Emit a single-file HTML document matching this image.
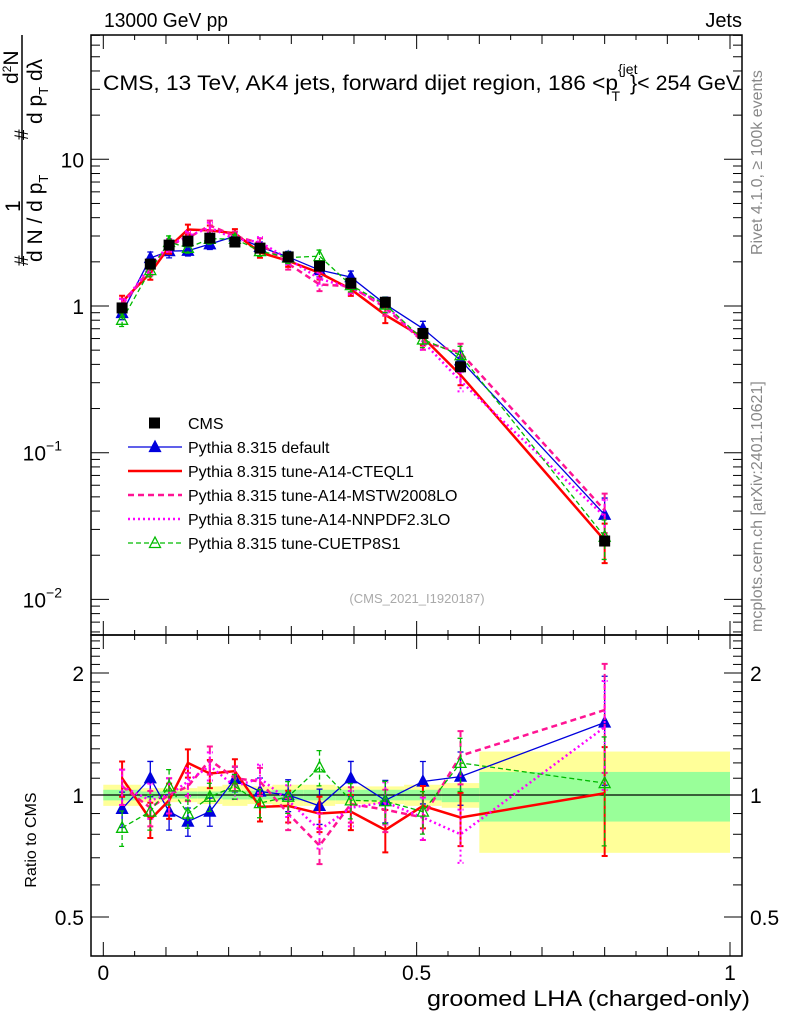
<!DOCTYPE html>
<html><head><meta charset="utf-8"><style>
body{margin:0;background:#fff;}
svg text{font-family:"Liberation Sans",sans-serif;}
</style></head><body>
<svg id="c" width="786" height="1024" viewBox="0 0 786 1024" xmlns="http://www.w3.org/2000/svg">
<rect width="786" height="1024" fill="#fff"/>
<g id="bands"></g>
<g id="series"></g>
<g id="axes" stroke="#000" fill="none" stroke-width="1"></g>
<rect x="91" y="35" width="651" height="600" fill="none" stroke="#000" stroke-width="1.5"/>
<rect x="91" y="635" width="651" height="321" fill="none" stroke="#000" stroke-width="1.5"/>
<text x="104" y="27" font-size="20" textLength="124" lengthAdjust="spacingAndGlyphs">13000 GeV pp</text>
<text x="742" y="27" font-size="20" text-anchor="end">Jets</text>
<text x="103" y="90" font-size="21"><tspan textLength="515" lengthAdjust="spacingAndGlyphs">CMS, 13 TeV, AK4 jets, forward dijet region, 186 &lt;p</tspan><tspan font-size="14" dy="-16">{jet</tspan><tspan font-size="14" dx="-26" dy="27">T</tspan><tspan dy="-11" dx="10" textLength="110" lengthAdjust="spacingAndGlyphs">}&lt; 254 GeV</tspan></text>
<text transform="translate(762,255) rotate(-90)" font-size="16" fill="#888">Rivet 4.1.0, ≥ 100k events</text>
<text transform="translate(762,632) rotate(-90)" font-size="16" fill="#888">mcplots.cern.ch [arXiv:2401.10621]</text>
<text x="417" y="603" font-size="13" fill="#aaa" text-anchor="middle">(CMS_2021_I1920187)</text>
<g font-size="21">
<line x1="22" y1="35" x2="22" y2="262" stroke="#000" stroke-width="1.5"/>
<text transform="translate(20,212) rotate(-90)">1</text>
<text transform="translate(28,266) rotate(-90)" font-size="19">#</text>
<text transform="translate(42,262) rotate(-90)">d N / d p<tspan font-size="13" dy="6">T</tspan></text>
<text transform="translate(28,140) rotate(-90)" font-size="19">#</text>
<text transform="translate(18,84) rotate(-90)">d<tspan font-size="12" dy="-7">2</tspan><tspan dy="7">N</tspan></text>
<text transform="translate(42,124) rotate(-90)">d p<tspan font-size="13" dy="6">T</tspan><tspan dy="-6"> dλ</tspan></text>
</g>
<text transform="translate(36,840) rotate(-90)" font-size="16" text-anchor="middle">Ratio to CMS</text>
<text x="750" y="1006" font-size="22" text-anchor="end" textLength="323" lengthAdjust="spacingAndGlyphs">groomed LHA (charged-only)</text>
<g id="ticklabels" font-size="21"></g>
<g id="legend"></g>
</svg>
<script>
const xCenters=[0.03,0.075,0.105,0.135,0.17,0.21,0.25,0.295,0.345,0.395,0.45,0.51,0.57,0.8];
const binEdges=[0,0.06,0.09,0.12,0.15,0.19,0.23,0.27,0.32,0.37,0.42,0.48,0.54,0.6,1.0];
const cmsValues=[0.97,1.93,2.6,2.77,2.9,2.73,2.48,2.16,1.87,1.43,1.06,0.65,0.385,0.025];
const statBand=[0.03,0.02,0.02,0.02,0.02,0.025,0.025,0.03,0.03,0.03,0.03,0.03,0.04,0.14];
const totBand=[0.06,0.04,0.04,0.04,0.05,0.06,0.05,0.06,0.06,0.05,0.05,0.06,0.07,0.28];
const ratioDefault=[0.924,1.10,0.91,0.86,0.91,1.095,1.02,1.0,0.94,1.10,0.97,1.08,1.11,1.51];
const ratioCTEQ=[1.10,0.87,0.97,1.2,1.13,1.145,0.935,0.94,0.9,0.91,0.82,0.94,0.88,1.01];
const ratioMSTW=[1.05,0.93,1.0,1.05,1.22,1.1,1.08,0.9,0.75,0.95,0.92,0.88,1.25,1.62];
const ratioNNPDF=[1.05,0.97,1.0,1.08,1.18,1.05,1.1,0.97,0.82,0.93,0.96,0.88,0.8,1.47];
const ratioCUETP=[0.83,0.91,1.05,0.9,0.99,1.05,0.955,0.99,1.17,0.97,0.965,0.91,1.2,1.07];
const modelErr=[0.1,0.1,0.1,0.08,0.08,0.07,0.08,0.09,0.1,0.1,0.12,0.12,0.15,0.3];

const NS='http://www.w3.org/2000/svg';
function X(v){return 103.3+v*626.7;}
function Y(v){return 306-146.7*Math.log10(v);}
function R(v){return 795-122*Math.log2(v);}
function mk(tag,attrs,parent){const e=document.createElementNS(NS,tag);for(const k in attrs)e.setAttribute(k,attrs[k]);parent.appendChild(e);return e;}
const bands=document.getElementById('bands'),ser=document.getElementById('series'),ax=document.getElementById('axes'),tl=document.getElementById('ticklabels'),lg=document.getElementById('legend');

for(let i=0;i<xCenters.length;i++){
 const x0=X(binEdges[i]),x1=X(binEdges[i+1]);
 const y=mk('rect',{x:x0,y:R(1+totBand[i]),width:x1-x0,height:R(1-totBand[i])-R(1+totBand[i]),fill:'#ffff99'},bands);
 
 
 const g=mk('rect',{x:x0,y:R(1+statBand[i]),width:x1-x0,height:R(1-statBand[i])-R(1+statBand[i]),fill:'#99ff99'},bands);
 
 
}
const one=mk('line',{x1:91,x2:742,y1:R(1),y2:R(1),stroke:'#000','stroke-width':1.2},bands);



const models=[
 {name:'default',r:ratioDefault,col:'#0000dd',w:1.3,dash:'',mark:'tri'},
 {name:'cteql1',r:ratioCTEQ,col:'#ff0000',w:2.5,dash:'',mark:''},
 {name:'mstw',r:ratioMSTW,col:'#ff1493',w:2.5,dash:'6,4',mark:''},
 {name:'nnpdf',r:ratioNNPDF,col:'#ff00ff',w:2.5,dash:'2,3',mark:''},
 {name:'cuetp',r:ratioCUETP,col:'#00bb00',w:1.3,dash:'5,3',mark:'otri'}];
function tri(cx,cy,col,open,parent){
 return mk('polygon',{points:`${cx},${cy-6} ${cx-5.5},${cy+4.5} ${cx+5.5},${cy+4.5}`,fill:open?'none':col,stroke:col,'stroke-width':1.3},parent);
}
models.forEach(m=>{
 const g=mk('g',{},ser);
 
 
 ['main','ratio'].forEach(panel=>{
  const f=panel==='main'?(i=>Y(cmsValues[i]*m.r[i])):(i=>R(m.r[i]));
  const fv=panel==='main'?((i,s)=>Y(cmsValues[i]*m.r[i]*s)):((i,s)=>R(m.r[i]*s));
  let d='';xCenters.forEach((x,i)=>{d+=(i?'L':'M')+X(x)+','+f(i);});
  const pl=mk('path',{d:d,fill:'none',stroke:m.col,'stroke-width':m.w,'stroke-dasharray':m.dash},g);
  
  
  xCenters.forEach((x,i)=>{
   const e=mk('path',{d:`M${X(x)},${fv(i,1+modelErr[i])}V${fv(i,1-modelErr[i])}M${X(x)-3},${fv(i,1+modelErr[i])}h6M${X(x)-3},${fv(i,1-modelErr[i])}h6`,stroke:m.col,'stroke-width':m.w>2?2:1.3,'stroke-dasharray':m.dash,fill:'none'},g);
   
   
   if(m.mark){const t=tri(X(x),f(i),m.col,m.mark==='otri',g);
    
    }
  });
 });
});
const cg=mk('g',{},ser);


xCenters.forEach((x,i)=>{
 const s=mk('rect',{x:X(x)-5.5,y:Y(cmsValues[i])-5.5,width:11,height:11,fill:'#000'},cg);
 
 
});

function tick(x1,y1,x2,y2){mk('line',{x1,y1,x2,y2},ax);}
for(let k=0;k<=20;k++){const v=k*0.05,x=X(v),L=(k%10===0)?14:(k%2===0?9:5);
 tick(x,635,x,635-L);tick(x,35,x,35+L);tick(x,956,x,956-L);tick(x,635,x,635+L);}
[[0,'0'],[0.5,'0.5'],[1,'1']].forEach(([v,t])=>{const e=mk('text',{x:X(v),y:980,'text-anchor':'middle'},tl);e.textContent=t;
 });
for(let dec=-3;dec<=1;dec++){for(let m=1;m<10;m++){const v=m*Math.pow(10,dec);const y=Y(v);if(y<35||y>635)continue;
 const L=m===1?18:9;tick(91,y,91+L,y);tick(742,y,742-L,y);}}
[[10,'10'],[1,'1']].forEach(([v,t])=>{const e=mk('text',{x:84,y:Y(v)+8,'text-anchor':'end'},tl);e.textContent=t;
 });
[[0.1,'−1'],[0.01,'−2']].forEach(([v,t])=>{const e=mk('text',{x:62,y:Y(v)+8,'text-anchor':'end'},tl);e.textContent='10';
 const s=mk('tspan',{'font-size':14,dy:-10},e);s.textContent=t;
 });
const rt=[0.5,0.6,0.7,0.8,0.9,1,1.1,1.2,1.3,1.4,1.5,1.6,1.7,1.8,1.9,2,2.1,2.2,2.3,2.4];
rt.forEach(v=>{const y=R(v);const L=(v===0.5||v===1||v===2)?18:9;tick(91,y,91+L,y);tick(742,y,742-L,y);});
[[2,'2'],[1,'1'],[0.5,'0.5']].forEach(([v,t])=>{
 const e=mk('text',{x:84,y:R(v)+8,'text-anchor':'end'},tl);e.textContent=t;
 
 const e2=mk('text',{x:750,y:R(v)+8},tl);e2.textContent=t;
 });

const legItems=[['CMS','sq','#000','',2],['Pythia 8.315 default','tri','#0000dd','',1.3],['Pythia 8.315 tune-A14-CTEQL1','','#ff0000','',2.5],
 ['Pythia 8.315 tune-A14-MSTW2008LO','','#ff1493','6,4',2.5],['Pythia 8.315 tune-A14-NNPDF2.3LO','','#ff00ff','2,3',2.5],['Pythia 8.315 tune-CUETP8S1','otri','#00bb00','5,3',1.3]];
legItems.forEach((it,i)=>{const y=423+i*24;const g=mk('g',{},lg);
 
 
 if(it[1]==='sq'){mk('rect',{x:149,y:y-5.5,width:11,height:11,fill:'#000'},g);}
 else{mk('line',{x1:128,x2:182,y1:y,y2:y,stroke:it[2],'stroke-width':it[4],'stroke-dasharray':it[3]},g);
  if(it[1])tri(155,y,it[2],it[1]==='otri',g);}
 const t=mk('text',{x:188,y:y+6,'font-size':16},g);t.textContent=it[0];});
</script>
</body></html>
